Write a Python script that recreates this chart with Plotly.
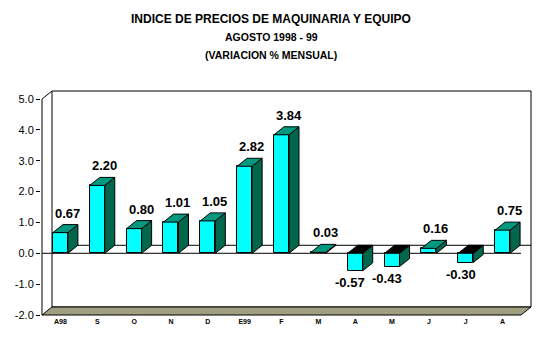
import plotly.graph_objects as go

# Monthly change of the machinery & equipment price index, Aug 1998 - Aug 1999
months = ["A98", "S", "O", "N", "D", "E99", "F", "M", "A", "M", "J", "J", "A"]
values = [0.67, 2.20, 0.80, 1.01, 1.05, 2.82, 3.84, 0.03, -0.57, -0.43, 0.16, -0.30, 0.75]
y_ticks = [-2, -1, 0, 1, 2, 3, 4, 5]

title_lines = [
    "INDICE DE PRECIOS DE MAQUINARIA Y EQUIPO",
    "AGOSTO 1998 - 99",
    "(VARIACION % MENSUAL)",
]

FRONT = "#00FFFF"
TOP = "#009980"
SIDE = "#00664C"
FLOOR = "#A0A080"

n = len(values)
# pixel size of one category / one y unit, used to express the 3-D depth
SX = 479 / 13
SY = 216 / 7
DX = 10 / SX          # depth offset to the right
DY = 8 / SY           # depth offset upward
HW = 7.5 / SX         # half width of a bar front

X0, X1 = -0.5, n - 0.5
Y0, Y1 = y_ticks[0], y_ticks[-1]

fig = go.Figure(
    go.Bar(
        x=list(range(n)),
        y=values,
        width=2 * HW,
        marker=dict(color=FRONT, line=dict(color="black", width=1)),
        hoverinfo="skip",
    )
)


def path(pts):
    return "M " + " L ".join(f"{x},{y}" for x, y in pts) + " Z"


shapes = []
line = dict(color="black", width=1)

# back wall
shapes.append(dict(type="rect", xref="x", yref="y", layer="below",
                   x0=X0 + DX, y0=Y0 + DY, x1=X1 + DX, y1=Y1 + DY,
                   fillcolor="white", line=line))
# floor
shapes.append(dict(type="path", xref="x", yref="y", layer="below",
                   path=path([(X0, Y0), (X1, Y0), (X1 + DX, Y0 + DY), (X0 + DX, Y0 + DY)]),
                   fillcolor=FLOOR, line=line))
# front value axis and its top corner
shapes.append(dict(type="line", xref="x", yref="y", layer="below",
                   x0=X0, y0=Y0, x1=X0, y1=Y1, line=line))
shapes.append(dict(type="line", xref="x", yref="y", layer="below",
                   x0=X0, y0=Y1, x1=X0 + DX, y1=Y1 + DY, line=line))
# zero plane edges (back and front)
shapes.append(dict(type="line", xref="x", yref="y", layer="below",
                   x0=X0 + DX, y0=DY, x1=X1 + DX, y1=DY, line=line))
shapes.append(dict(type="line", xref="x", yref="y", layer="below",
                   x0=X0, y0=0, x1=X1, y1=0, line=line))

# side and top faces of each column
for i, v in enumerate(values):
    lo, hi = min(0, v), max(0, v)
    r = i + HW
    l = i - HW
    shapes.append(dict(type="path", xref="x", yref="y", layer="above",
                       path=path([(r, lo), (r, hi), (r + DX, hi + DY), (r + DX, lo + DY)]),
                       fillcolor=SIDE, line=line))
    shapes.append(dict(type="path", xref="x", yref="y", layer="above",
                       path=path([(l, hi), (r, hi), (r + DX, hi + DY), (l + DX, hi + DY)]),
                       fillcolor=TOP if v >= 0 else "black", line=line))

annotations = []
label_font = dict(family="Liberation Sans, Arial", size=13, color="black", weight="bold")
for i, v in enumerate(values):
    if v >= 0:
        annotations.append(dict(x=i, y=v + DY, xref="x", yref="y", text=f"{v:.2f}",
                                showarrow=False, yanchor="bottom", xanchor="center",
                                xshift=7, yshift=2, font=label_font))
    else:
        annotations.append(dict(x=i, y=v, xref="x", yref="y", text=f"{v:.2f}",
                                showarrow=False, yanchor="top", xanchor="center",
                                xshift=-5, yshift=-2, font=label_font))

# title block, three centred lines
W, H = 550, 338
ML, MR, MT, MB = 41, 18, 90, 22
pw, ph = W - ML - MR, H - MT - MB
for txt, py, size in zip(title_lines, [19, 37, 55], [12, 10.5, 10.5]):
    annotations.append(dict(x=(271 - ML) / pw, y=(H - MB - py) / ph, xref="paper", yref="paper",
                            text=txt, showarrow=False, xanchor="center", yanchor="middle",
                            font=dict(family="Liberation Sans, Arial", size=size,
                                      color="black", weight="bold")))

fig.update_layout(
    width=W, height=H,
    margin=dict(l=ML, r=MR, t=MT, b=MB, pad=0),
    paper_bgcolor="white", plot_bgcolor="white",
    showlegend=False,
    shapes=shapes,
    annotations=annotations,
    bargap=0,
    xaxis=dict(
        range=[X0 - 1 / SX, X1 + DX + 1 / SX],
        tickvals=list(range(n)), ticktext=months,
        ticks="", showgrid=False, zeroline=False, showline=False,
        tickfont=dict(family="Liberation Sans, Arial", size=7, color="black", weight="bold"),
        fixedrange=True,
    ),
    yaxis=dict(
        range=[Y0 - 1 / SY, Y1 + DY + 1 / SY],
        tickvals=y_ticks, ticktext=[f"{t:.1f}" for t in y_ticks],
        ticks="outside", ticklen=4, tickcolor="black", tickwidth=1,
        showgrid=False, zeroline=False, showline=False,
        tickfont=dict(family="Liberation Sans, Arial", size=11, color="black"),
        fixedrange=True,
    ),
)

fig.write_html("out.html", config={"displayModeBar": False})
